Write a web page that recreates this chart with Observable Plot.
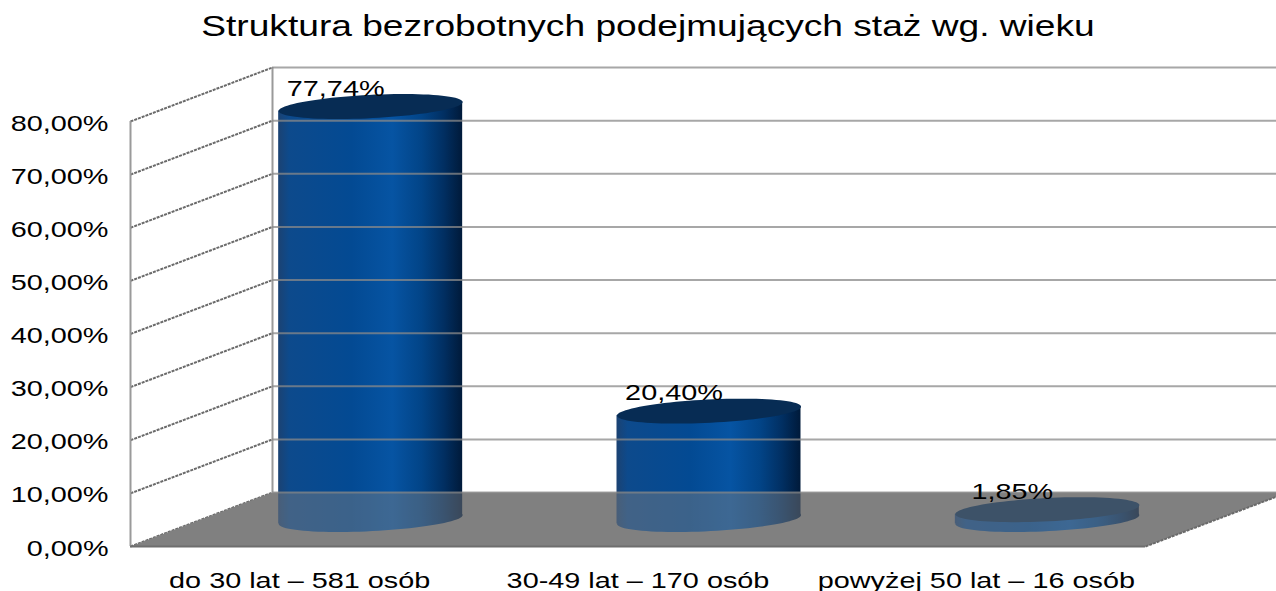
<!DOCTYPE html>
<html><head><meta charset="utf-8">
<script src="https://cdn.jsdelivr.net/npm/d3@7"></script>
<script src="https://cdn.jsdelivr.net/npm/@observablehq/plot@0.6"></script>
<style>
html,body{margin:0;padding:0;background:#fff;overflow:hidden;}
#title{height:60px;box-sizing:border-box;padding-top:9px;text-align:center;font-family:"Liberation Sans",Arial,sans-serif;font-size:29px;line-height:34px;color:#000;white-space:nowrap;}
#title span{display:inline-block;transform:translateX(10px) scaleX(1.28);transform-origin:center;}
</style></head><body>
<svg width="0" height="0" style="position:absolute;left:0;top:0">
<defs>
<linearGradient id="barGrad" x1="0" x2="1" y1="0" y2="0">
<stop offset="0" stop-color="#1b4272"/>
<stop offset="0.06" stop-color="#0d4a8c"/>
<stop offset="0.4" stop-color="#034a93"/>
<stop offset="0.62" stop-color="#0654a3"/>
<stop offset="0.78" stop-color="#024487"/>
<stop offset="0.9" stop-color="#012f62"/>
<stop offset="1" stop-color="#001a3a"/>
</linearGradient>
</defs></svg>
<div id="title"><span>Struktura bezrobotnych podejmujących staż wg. wieku</span></div>
<div id="chart"></div>
<script>
const categories = ["do 30 lat – 581 osób", "30-49 lat – 170 osób", "powyżej 50 lat – 16 osób"];
const shares = [77.74, 20.40, 1.85];
const yTicks = [0, 10, 20, 30, 40, 50, 60, 70, 80];
const yTickLabels = ["0,00%", "10,00%", "20,00%", "30,00%", "40,00%", "50,00%", "60,00%", "70,00%", "80,00%"];

const W = 1276, H = 531, ML = 130, MR = 131, MT = 61, MB = 45;
const n = categories.length;
const kx = (W - ML - MR) / n;        // px per category
const ky = (H - MT - MB) / 80;       // px per percent
const DEPTH_X = 142, DEPTH_Y = 54;   // oblique depth (px)
const dxu = DEPTH_X / kx, dyu = DEPTH_Y / ky;
const BAR_HALF = 92;
const half = BAR_HALF / kx;
const MIDX = DEPTH_X / 2, MIDY = -DEPTH_Y / 2;
const EC = 12.5, EB = EC * DEPTH_X / DEPTH_Y, EA = Math.sqrt(BAR_HALF * BAR_HALF - EB * EB);
const eTilt = EC * EB / BAR_HALF / ky;

const ellipse = {draw(ctx) {
  const N = 90;
  for (let k = 0; k < N; k++) {
    const t = 2 * Math.PI * k / N;
    const x = EA * Math.cos(t) + EB * Math.sin(t), y = -EC * Math.sin(t);
    if (k === 0) ctx.moveTo(x, y); else ctx.lineTo(x, y);
  }
  ctx.closePath();
}};

const fmt = v => v.toFixed(2).replace(".", ",") + "%";
const bars = shares.map((v, i) => ({cat: categories[i], c: i + 0.5, v}));
const bodyPts = bars.flatMap(b => [
  {cat: b.cat, x: b.c - half, y1: -eTilt, y2: b.v - eTilt},
  {cat: b.cat, x: b.c + half, y1: eTilt, y2: b.v + eTilt}
]);
const floorPts = [{x: 0, y: 0}, {x: n, y: 0}, {x: n + dxu, y: dyu}, {x: dxu, y: dyu}];

const chart = Plot.plot({
  width: W, height: H,
  marginLeft: ML, marginRight: MR, marginTop: MT, marginBottom: MB,
  x: {domain: [0, n], axis: null},
  y: {domain: [0, 80], axis: null},
  style: {fontFamily: "Liberation Sans, Arial, sans-serif", background: "transparent", color: "#000"},
  marks: [
    // side wall lines
    Plot.link(yTicks, {x1: 0, y1: d => d, x2: dxu, y2: d => d + dyu, stroke: "#6a6a6a", strokeWidth: 2, strokeDasharray: "3 1"}),
    Plot.ruleX([0], {y1: 0, y2: 80, stroke: "#9a9a9a", strokeWidth: 2}),
    Plot.ruleX([dxu], {y1: dyu, y2: 80 + dyu, stroke: "#9a9a9a", strokeWidth: 2}),
    // floor
    Plot.line(floorPts, {x: "x", y: "y", fill: "#808080", stroke: "none"}),
    // cylinders
    Plot.dot(bars, {x: "c", y: () => 0, dx: MIDX, dy: MIDY, symbol: ellipse, fill: "url(#barGrad)", stroke: "none"}),
    Plot.areaY(bodyPts, {x: "x", y1: "y1", y2: "y2", z: "cat", fill: "url(#barGrad)", dx: MIDX, dy: MIDY}),
    Plot.dot(bars, {x: "c", y: "v", dx: MIDX, dy: MIDY, symbol: ellipse, fill: "#072c54", stroke: "none"}),
    // back wall gridlines
    Plot.ruleY(yTicks, {x1: dxu, x2: n + dxu, y: d => d + dyu, stroke: "#8a8a8a", strokeOpacity: 0.75, strokeWidth: 2}),
    // floor overlay (translucent)
    Plot.line(floorPts, {x: "x", y: "y", fill: "#808080", fillOpacity: 0.45, stroke: "none"}),
    Plot.ruleY([0], {x1: 0, x2: n, stroke: "#6e6e6e", strokeWidth: 2}),
    Plot.link([0], {x1: n, y1: 0, x2: n + dxu, y2: dyu, stroke: "#6a6a6a", strokeWidth: 2, strokeDasharray: "3 1"}),
    // texts
    Plot.text(yTicks, {x: 0, y: d => d, text: (d, i) => yTickLabels[i], dx: -22, dy: 2, textAnchor: "end", fontSize: 22, fill: "#000"}),
    Plot.text(categories, {x: (d, i) => i + 0.5, y: () => 0, text: d => d, dy: 41, lineAnchor: "bottom", fontSize: 22, fill: "#000"}),
    Plot.text(bars, {x: "c", y: "v", text: d => fmt(d.v), dx: 36, dy: -38, lineAnchor: "bottom", fontSize: 22, fill: "#000"})
  ]
});
document.getElementById("chart").append(chart);
chart.querySelectorAll("text").forEach(t => {
  const L = t.getComputedTextLength();
  if (L > 0) {
    t.setAttribute("textLength", (L * 1.31).toFixed(1));
    t.setAttribute("lengthAdjust", "spacingAndGlyphs");
  }
});
</script>
</body></html>
